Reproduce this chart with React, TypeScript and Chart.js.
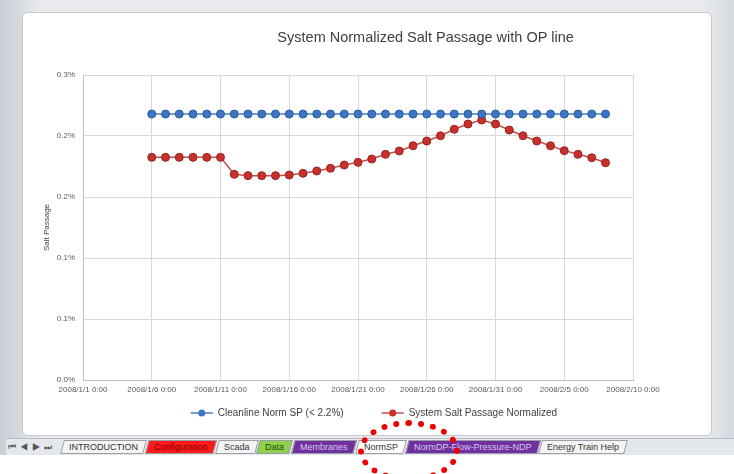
import React, { useEffect, useRef } from "react";
import { Chart, registerables } from "chart.js";

Chart.register(...registerables);

const chartTitle = "System Normalized Salt Passage with OP line";
const yAxisTitle = "Salt Passage";
const xTickLabels = [
  "2008/1/1 0:00",
  "2008/1/6 0:00",
  "2008/1/11 0:00",
  "2008/1/16 0:00",
  "2008/1/21 0:00",
  "2008/1/26 0:00",
  "2008/1/31 0:00",
  "2008/2/5 0:00",
  "2008/2/10 0:00",
];
const yTickLabels = ["0.0%", "0.1%", "0.1%", "0.2%", "0.2%", "0.3%"];
const firstDay = 5;
const cleanlineLabel = "Cleanline Norm SP (< 2.2%)";
const cleanlineValues = [
  0.218, 0.218, 0.218, 0.218, 0.218, 0.218, 0.218, 0.218, 0.218, 0.218,
  0.218, 0.218, 0.218, 0.218, 0.218, 0.218, 0.218, 0.218, 0.218, 0.218,
  0.218, 0.218, 0.218, 0.218, 0.218, 0.218, 0.218, 0.218, 0.218, 0.218,
  0.218, 0.218, 0.218, 0.218,
];
const systemLabel = "System Salt Passage Normalized";
const systemValues = [
  0.1825, 0.1825, 0.1825, 0.1825, 0.1825, 0.1825, 0.1686, 0.1675, 0.1675,
  0.1675, 0.168, 0.1694, 0.1713, 0.1735, 0.1762, 0.1784, 0.1811, 0.185,
  0.1877, 0.192, 0.1959, 0.2002, 0.2055, 0.2098, 0.2131, 0.2098, 0.2049,
  0.2002, 0.1959, 0.192, 0.188, 0.185, 0.1822, 0.1781,
];
const sheetTabs = [
  { name: "INTRODUCTION", bg: "#f4f4f4", fg: "#333" },
  { name: "Configuration", bg: "#ff1a1a", fg: "#7a0000" },
  { name: "Scada", bg: "#f4f4f4", fg: "#333" },
  { name: "Data", bg: "#8fd14f", fg: "#1f4f00" },
  { name: "Membranes", bg: "#7030a0", fg: "#d9c8ee" },
  { name: "NormSP", bg: "#ffffff", fg: "#333" },
  { name: "NormDP-Flow-Pressure-NDP", bg: "#7030a0", fg: "#d9c8ee" },
  { name: "Energy Train Help", bg: "#f4f4f4", fg: "#333" },
];

const FONT = "'Liberation Sans', Arial, sans-serif";

const toPoints = (vals: number[]) =>
  vals.map((v, i) => ({ x: firstDay + i, y: v }));

const titlePlugin = {
  id: "offsetTitle",
  afterDraw(chart: any) {
    const ctx = chart.ctx;
    ctx.save();
    ctx.font = `14.5px ${FONT}`;
    ctx.fillStyle = "#404040";
    ctx.textAlign = "center";
    ctx.textBaseline = "middle";
    ctx.fillText(chartTitle, chart.width * 0.585, 24);
    ctx.restore();
  },
};

const legendPlugin = {
  id: "lineMarkerLegend",
  afterDraw(chart: any) {
    const ctx = chart.ctx;
    ctx.save();
    ctx.font = `10px ${FONT}`;
    const items = chart.data.datasets.map((ds: any) => ({
      text: ds.label,
      color: ds.pointBackgroundColor,
      line: ds.borderColor,
      w: ctx.measureText(ds.label).width,
    }));
    const sym = 22;
    const gap = 5;
    const spacing = 38;
    const total =
      items.reduce((a: number, it: any) => a + sym + gap + it.w, 0) +
      spacing * (items.length - 1);
    let x = chart.width * 0.51 - total / 2;
    const y = 399;
    items.forEach((it: any) => {
      ctx.strokeStyle = it.line;
      ctx.lineWidth = 1.5;
      ctx.beginPath();
      ctx.moveTo(x, y);
      ctx.lineTo(x + sym, y);
      ctx.stroke();
      ctx.fillStyle = it.color;
      ctx.beginPath();
      ctx.arc(x + sym / 2, y, 3.5, 0, Math.PI * 2);
      ctx.fill();
      ctx.fillStyle = "#404040";
      ctx.textBaseline = "middle";
      ctx.textAlign = "left";
      ctx.fillText(it.text, x + sym + gap, y);
      x += sym + gap + it.w + spacing;
    });
    ctx.restore();
  },
};

function ChartBox() {
  const ref = useRef<HTMLCanvasElement | null>(null);
  useEffect(() => {
    if (!ref.current) return;
    const chart = new Chart(ref.current, {
      type: "line",
      data: {
        datasets: [
          {
            label: cleanlineLabel,
            data: toPoints(cleanlineValues),
            borderColor: "#4a7ebb",
            borderWidth: 1.5,
            pointBackgroundColor: "#3d76c4",
            pointBorderColor: "#2a5a9a",
            pointBorderWidth: 1,
            pointRadius: 4,
            tension: 0,
          },
          {
            label: systemLabel,
            data: toPoints(systemValues),
            borderColor: "#c0504d",
            borderWidth: 1.5,
            pointBackgroundColor: "#c8302c",
            pointBorderColor: "#962522",
            pointBorderWidth: 1,
            pointRadius: 4,
            tension: 0,
          },
        ],
      },
      options: {
        animation: false,
        responsive: false,
        layout: { padding: { left: 20, right: 79, top: 61, bottom: 30 } },
        plugins: {
          legend: { display: false },
          title: { display: false },
          tooltip: { enabled: false },
        },
        scales: {
          x: {
            type: "linear",
            min: 0,
            max: 40,
            afterFit: (s: any) => {
              s.height = 24;
            },
            ticks: {
              stepSize: 5,
              autoSkip: false,
              maxRotation: 0,
              padding: 5,
              color: "#595959",
              font: { family: FONT, size: 8 },
              callback: (_v: any, i: number) => xTickLabels[i],
            },
            grid: { color: "#d9d9d9", drawTicks: false },
            border: { color: "#bfbfbf" },
          },
          y: {
            min: 0,
            max: 0.25,
            afterFit: (s: any) => {
              s.width = 41;
            },
            ticks: {
              stepSize: 0.05,
              padding: 8,
              color: "#595959",
              font: { family: FONT, size: 8 },
              callback: (_v: any, i: number) => yTickLabels[i],
            },
            title: {
              display: true,
              text: yAxisTitle,
              color: "#404040",
              font: { family: FONT, size: 8 },
              padding: 0,
            },
            grid: { color: "#d9d9d9", drawTicks: false },
            border: { color: "#bfbfbf" },
          },
        },
      },
      plugins: [titlePlugin, legendPlugin],
    } as any);
    return () => chart.destroy();
  }, []);
  return <canvas ref={ref} width={690} height={420} style={{ display: "block" }} />;
}

export default function App() {
  return (
    <div
      style={{
        position: "fixed",
        left: 0,
        top: 0,
        width: 734,
        height: 474,
        background: "#ffffff",
        overflow: "hidden",
        fontFamily: FONT,
      }}
    >
      <div
        style={{
          position: "absolute",
          left: 0,
          top: 0,
          width: 734,
          height: 455,
          background: "linear-gradient(90deg, #c9ced5 0px, #d6dae0 20px, #e9ebee 40px, #e9ebee 700px, #d6dae0 734px)",
        }}
      />
      <div
        style={{
          position: "absolute",
          left: 22,
          top: 12,
          width: 690,
          height: 424,
          background: "#ffffff",
          border: "1px solid #c9c9c9",
          borderRadius: 6,
          boxSizing: "border-box",
          overflow: "hidden",
        }}
      >
        <div style={{ position: "absolute", left: -1, top: 1 }}>
          <ChartBox />
        </div>
      </div>
      <div
        style={{
          position: "absolute",
          left: 6,
          top: 438,
          width: 728,
          height: 16,
          background: "#e4e7eb",
          borderTop: "1px solid #b9bec6",
          display: "flex",
          alignItems: "center",
          fontSize: 9,
          whiteSpace: "nowrap",
        }}
      >
        <span style={{ color: "#555", letterSpacing: 4, padding: "0 6px 0 2px" }}>
          {"\u23EE\u25C0\u25B6\u23ED"}
        </span>
        {sheetTabs.map((t) => (
          <span
            key={t.name}
            style={{
              background: t.bg,
              padding: "1px 6px",
              marginRight: 2,
              border: "1px solid #9aa0a8",
              transform: "skewX(-15deg)",
              display: "inline-block",
            }}
          >
            <span
              style={{
                color: t.fg,
                display: "inline-block",
                transform: "skewX(15deg)",
              }}
            >
              {t.name}
            </span>
          </span>
        ))}
      </div>
      <div
        style={{
          position: "absolute",
          left: 358,
          top: 420,
          width: 102,
          height: 62,
          border: "6px dotted #ee0000",
          borderRadius: "50%",
          boxSizing: "border-box",
        }}
      />
    </div>
  );
}
